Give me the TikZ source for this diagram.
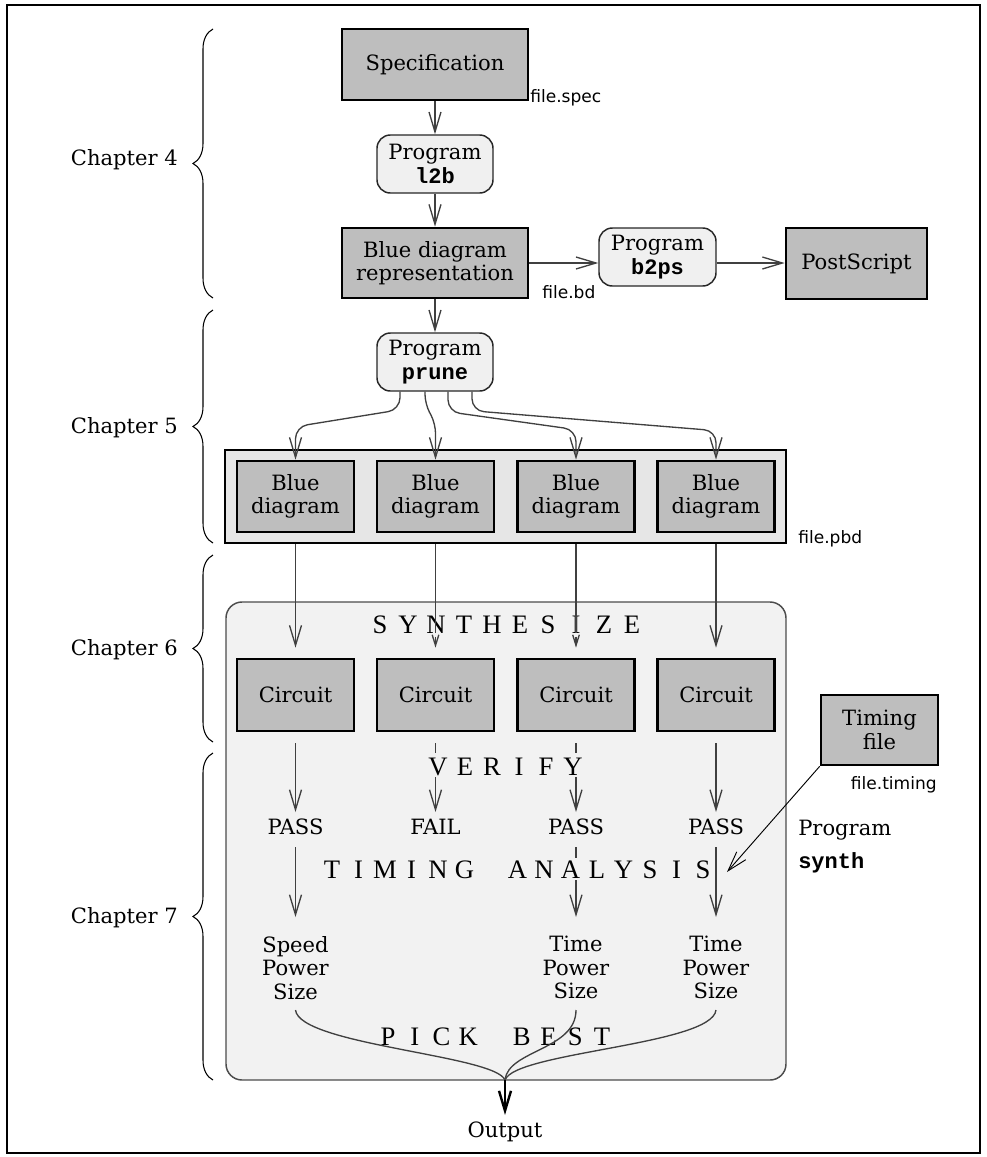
\documentclass[tikz,border=0pt]{standalone}
\usepackage{fontspec}
\setmainfont{DejaVu Serif}
\setsansfont{DejaVu Sans}
\setmonofont{Liberation Mono}
\newfontfamily\capsfont{Liberation Serif}
\usetikzlibrary{arrows.meta,calc,decorations.pathreplacing}

\definecolor{boxgray}{HTML}{BEBEBE}
\definecolor{proggray}{HTML}{F0F0F0}
\definecolor{pbdgray}{HTML}{E6E6E6}
\definecolor{synthgray}{HTML}{F2F2F2}
\definecolor{linegray}{HTML}{404040}

\newcommand\mainsize{\fontsize{15.8pt}{17.6pt}\selectfont}
\newcommand\codefont{\ttfamily\bfseries\fontsize{16.5pt}{17.6pt}\selectfont}
\newcommand\code[1]{{\codefont #1}}
\newcommand\labelfont{\sffamily\fontsize{12.8pt}{15pt}\selectfont}
\newcommand\stagefont{\capsfont\fontsize{20pt}{22pt}\selectfont}

% letter-spaced stage titles: every character sits in a box of fixed pitch
\newlength\letterpitch
\makeatletter
\newcommand\spreadword[2]{\setlength\letterpitch{#1}\spread@loop#2\relax}
\def\spread@loop#1{\ifx#1\relax\else\makebox[\letterpitch][c]{#1}\expandafter\spread@loop\fi}
\makeatother

\begin{document}
\begin{tikzpicture}[x=0.75pt,y=-0.75pt,
  font=\mainsize,
  darkbox/.style={draw=black, line width=2pt, fill=boxgray, inner sep=0pt,
    minimum width=87.75pt, minimum height=53.25pt, align=center},
  progbox/.style={draw=black!85, line width=1.1pt, fill=proggray, inner sep=0pt,
    rounded corners=10pt, minimum width=87pt, minimum height=43.5pt, align=center},
  filelabel/.style={font=\labelfont, inner sep=0pt},
  stagetitle/.style={font=\stagefont, inner sep=0pt},
  plain/.style={inner sep=0pt, align=center},
  conn/.style={draw=linegray, line width=1pt},
  arr/.style={conn, -{Straight Barb[length=15pt,width=9pt]}},
  smallarr/.style={conn, -{Straight Barb[length=8pt,width=5pt]}},
  thinarr/.style={draw=black, line width=0.7pt, -{Straight Barb[length=15pt,width=9pt]}},
  outarr/.style={draw=black, line width=1.8pt, -{Straight Barb[length=15pt,width=9pt]}},
  chapbrace/.style={draw=black, line width=0.8pt, decorate,
    decoration={brace, amplitude=15pt}},
]
\useasboundingbox (0,0) rectangle (986,1157);
\draw[line width=1.5pt] (7,5) rectangle (980,1153);

% ---- chapter braces ----
\draw[chapbrace] (213,298) -- (213,29);
\draw[chapbrace] (213,543) -- (213,310);
\draw[chapbrace] (213,742) -- (213,555);
\draw[chapbrace] (213,1080) -- (213,753);
\node[plain, anchor=base east] (ch4) at (178,165) {Chapter 4};
\node[plain, anchor=base east] (ch5) at (178,433) {Chapter 5};
\node[plain, anchor=base east] (ch6) at (178,655) {Chapter 6};
\node[plain, anchor=base east] (ch7) at (178,923) {Chapter 7};

% ---- synthesis stage background ----
\node[draw=black!70, line width=1.1pt, fill=synthgray, rounded corners=12pt,
  minimum width=420pt, minimum height=358.5pt] (synth) at (506,841) {};

% ---- specification to blue diagram ----
\node[darkbox, minimum width=139.5pt] (spec) at (435,64.5) {Specification};
\node[progbox] (l2b) at (435,164) {Program\\\code{l2b}};
\node[darkbox, minimum width=139.5pt, minimum height=52.5pt] (bdr) at (435,263)
  {Blue diagram\\representation};
\node[progbox, minimum width=87.75pt] (b2ps) at (657.5,257) {Program\\\code{b2ps}};
\node[darkbox, minimum width=105.75pt] (ps) at (856.5,263.5) {PostScript};
\node[progbox] (prune) at (435,362) {Program\\\code{prune}};

\node[filelabel, anchor=base west] (specfile) at (530,102) {file.spec};
\node[filelabel, anchor=base west] (bdfile) at (542,298) {file.bd};

\draw[arr] (spec.south) -- (l2b.north);
\draw[arr] (l2b.south) -- (bdr.north);
\draw[arr] (bdr.east) -- (bdr.east -| b2ps.west);
\draw[arr] (b2ps.east |- bdr.east) -- (ps.west |- bdr.east);
\draw[arr] (bdr.south) -- (prune.north);

% ---- pruned blue diagrams ----
\node[draw=black, line width=2pt, fill=pbdgray, minimum width=420.75pt,
  minimum height=69.75pt] (pbd) at (505.5,496.5) {};
\node[darkbox] (bd1) at (295.5,496.5) {Blue\\diagram};
\node[darkbox] (bd2) at (435.5,496.5) {Blue\\diagram};
\node[darkbox] (bd3) at (576,496.5) {Blue\\diagram};
\node[darkbox] (bd4) at (716,496.5) {Blue\\diagram};
\node[filelabel, anchor=base west] (pbdfile) at (798,543) {file.pbd};

\draw[arr, rounded corners=9pt] ($(prune.south)+(-35,0)$) -- ++(0,18)
  -- ($(bd1.north)+(0,-33)$) -- (bd1.north);
\draw[arr, rounded corners=7pt] ($(prune.south)+(-10,0)$) -- ++(0,12)
  -- ($(bd2.north)+(0,-36)$) -- (bd2.north);
\draw[arr, rounded corners=9pt] ($(prune.south)+(13,0)$) -- ++(0,20)
  -- ($(bd3.north)+(0,-30)$) -- (bd3.north);
\draw[arr, rounded corners=9pt] ($(prune.south)+(37,0)$) -- ++(0,19)
  -- ($(bd4.north)+(0,-29)$) -- (bd4.north);

% ---- synthesis ----
\node[stagetitle, anchor=base] (tsynth) at (506,633) {\spreadword{21pt}{SYNTHESIZE}};
\node[darkbox, minimum height=54pt] (c1) at (295.5,695) {Circuit};
\node[darkbox, minimum height=54pt] (c2) at (435.5,695) {Circuit};
\node[darkbox, minimum height=54pt] (c3) at (576,695) {Circuit};
\node[darkbox, minimum height=54pt] (c4) at (716,695) {Circuit};

\draw[arr] (bd1.south |- pbd.south) -- ($(c1.north)+(0,-10)$);
\draw[conn] (bd2.south |- pbd.south) -- (bd2.south |- tsynth.base);
\draw[smallarr] ($(c2.north)+(0,-21)$) -- ($(c2.north)+(0,-10)$);
\draw[conn] (bd3.south |- pbd.south) -- (bd3.south |- tsynth.base);
\draw[smallarr] ($(c3.north)+(0,-21)$) -- ($(c3.north)+(0,-10)$);
\draw[arr] (bd4.south |- pbd.south) -- ($(c4.north)+(0,-10)$);

% ---- verification ----
\node[stagetitle, anchor=base] (tverify) at (505.5,775) {\spreadword{20.25pt}{VERIFY}};
\node[plain, anchor=north] (p1) at (295.5,819) {PASS};
\node[plain, anchor=north] (f2) at (435.5,819) {FAIL};
\node[plain, anchor=north] (p3) at (576,819) {PASS};
\node[plain, anchor=north] (p4) at (716,819) {PASS};

\draw[arr] ($(c1.south)+(0,11)$) -- ($(p1.north)+(0,-7)$);
\draw[conn] ($(c2.south)+(0,11)$) -- ($(c2.south)+(0,21)$);
\draw[arr] ($(f2.north)+(0,-42)$) -- ($(f2.north)+(0,-7)$);
\draw[conn] ($(c3.south)+(0,11)$) -- ($(c3.south)+(0,21)$);
\draw[arr] ($(p3.north)+(0,-42)$) -- ($(p3.north)+(0,-7)$);
\draw[arr] ($(c4.south)+(0,11)$) -- ($(p4.north)+(0,-7)$);

% ---- timing analysis ----
\node[darkbox, minimum height=52.5pt] (tfile) at (879.5,730) {Timing\\file};
\node[filelabel, anchor=base east] (timingfile) at (937,789) {file.timing};
\node[plain, anchor=base west] (progsynth) at (798,835) {Program};
\node[plain, anchor=base west, font=\codefont] (synthname) at (798,868) {synth};

\node[stagetitle, anchor=base] (ttiming) at (517.5,878)
  {\spreadword{19.875pt}{TIMING~ANALYSIS}};
\node[plain, anchor=north] (r1) at (295.5,936) {Speed\\Power\\Size};
\node[plain, anchor=north] (r3) at (576,936) {Time\\Power\\Size};
\node[plain, anchor=north] (r4) at (716,936) {Time\\Power\\Size};

\draw[arr] ($(p1.north)+(0,28)$) -- ($(r1.north)+(0,-19)$);
\draw[conn] ($(p3.north)+(0,28)$) -- ($(p3.north)+(0,39)$);
\draw[arr] ($(r3.north)+(0,-56)$) -- ($(r3.north)+(0,-19)$);
\draw[arr] ($(p4.north)+(0,28)$) -- ($(r4.north)+(0,-19)$);

\coordinate (tatip) at (727,872);
\draw[thinarr] (tfile.south west) -- (tatip);

% ---- pick best ----
\node[stagetitle, anchor=base] (tpick) at (495,1045) {\spreadword{20.06pt}{PICK~BEST}};
\coordinate (merge) at (505,1080);
\draw[conn] ($(r1.north)+(0,74)$) .. controls +(4,35) and +(-10,-25) .. (merge);
\draw[conn] ($(r3.north)+(0,74)$) .. controls +(0,40) and +(3,-30) .. (merge);
\draw[conn] ($(r4.north)+(0,74)$) .. controls +(-4,35) and +(10,-28) .. (merge);

\node[plain, anchor=north] (out) at (505,1122) {Output};
\draw[outarr] (merge) -- ($(out.north)+(0,-7)$);
\end{tikzpicture}
\end{document}
